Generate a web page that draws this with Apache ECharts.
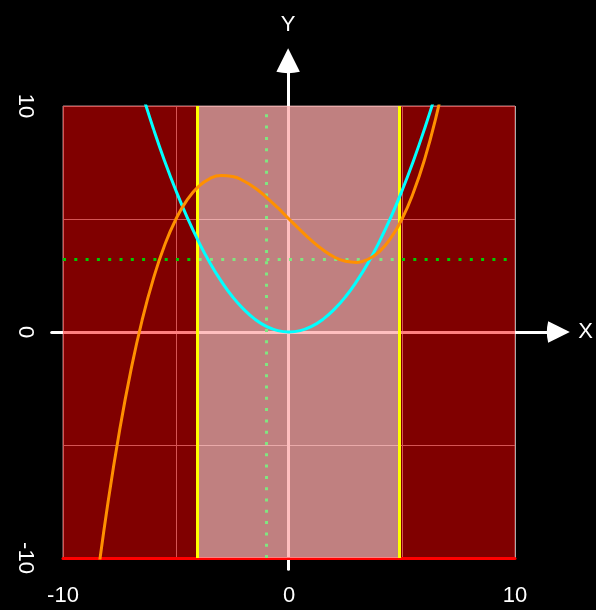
<!DOCTYPE html>
<html>
<head>
<meta charset="utf-8">
<script src="https://cdn.jsdelivr.net/npm/echarts@6/dist/echarts.min.js"></script>
<style>
html,body{margin:0;padding:0;background:#000;}
#chart{width:596px;height:610px;}
</style>
</head>
<body>
<div id="chart"></div>
<script>
// Data
const cyanX = [-7, -6.5, -6, -5.5, -5, -4.5, -4, -3.5, -3, -2.5, -2, -1.5, -1, -0.5, 0, 0.5, 1, 1.5, 2, 2.5, 3, 3.5, 4, 4.5, 5, 5.5, 6, 6.5, 7];
const cyanY = [12.25, 10.56, 9, 7.56, 6.25, 5.06, 4, 3.06, 2.25, 1.56, 1, 0.56, 0.25, 0.06, 0, 0.06, 0.25, 0.56, 1, 1.56, 2.25, 3.06, 4, 5.06, 6.25, 7.56, 9, 10.56, 12.25];
const orangeX = [-9, -8.5, -8, -7.5, -7, -6.5, -6, -5.5, -5, -4.5, -4, -3.5, -3, -2.5, -2, -1.5, -1, -0.5, 0, 0.5, 1, 1.5, 2, 2.5, 3, 3.5, 4, 4.5, 5, 5.5, 6, 6.5, 7];
const orangeY = [-15.16, -11.07, -7.48, -4.38, -1.72, 0.52, 2.36, 3.85, 5, 5.86, 6.44, 6.79, 6.92, 6.88, 6.68, 6.37, 5.96, 5.5, 5, 4.51, 4.04, 3.64, 3.32, 3.13, 3.08, 3.22, 3.56, 4.15, 5, 6.16, 7.64, 9.49, 11.72];
const bandRange = [-4.05, 4.88];
const guideX = -1.02;
const guideY = 3.2;
const tickLabels = [-10, 0, 10];
const axisRange = [-10, 10];

const pair = (xs, ys) => xs.map((x, i) => [x, ys[i]]);
const fmt = v => (tickLabels.indexOf(v) >= 0 ? String(v) : '');
const FONT = 'Liberation Sans, Arial, sans-serif';
const arrow = 'path://M12,0 L24,24 Q12,27 0,24 Z';

const chart = echarts.init(document.getElementById('chart'), null, {renderer: 'canvas'});
chart.setOption({
  backgroundColor: '#000',
  animation: false,
  grid: [
    {left: 63, right: 81, top: 106, bottom: 52, show: true, borderColor: '#aa8888', borderWidth: 1, backgroundColor: 'transparent'},
    {left: 51.7, right: 35.8, top: 60.8, bottom: 40.7, show: false}
  ],
  xAxis: [
    {
      type: 'value', gridIndex: 0, min: axisRange[0], max: axisRange[1], interval: 5,
      axisLine: {show: true, onZero: false, lineStyle: {color: '#ff0000', width: 3}},
      axisTick: {show: false},
      axisLabel: {color: '#fff', fontSize: 22, fontFamily: FONT, margin: 27, formatter: fmt},
      splitLine: {show: true, lineStyle: {color: '#aaaaaa', width: 1}}
    },
    {
      type: 'value', gridIndex: 1, min: -10.5, max: 12,
      axisLine: {show: true, onZero: true, symbol: ['none', arrow], symbolSize: [25, 23], lineStyle: {color: '#fff', width: 3}},
      axisTick: {show: false}, axisLabel: {show: false}, splitLine: {show: false},
      name: 'X', nameLocation: 'end', nameGap: 20,
      nameTextStyle: {color: '#fff', fontSize: 22, fontFamily: FONT}
    }
  ],
  yAxis: [
    {
      type: 'value', gridIndex: 0, min: axisRange[0], max: axisRange[1], interval: 5,
      axisLine: {show: false},
      axisTick: {show: false},
      axisLabel: {color: '#fff', fontSize: 22, fontFamily: FONT, margin: 27, rotate: -90, formatter: fmt},
      splitLine: {show: true, lineStyle: {color: '#aaaaaa', width: 1}}
    },
    {
      type: 'value', gridIndex: 1, min: -10.5, max: 12,
      axisLine: {show: true, onZero: true, symbol: ['none', arrow], symbolSize: [25, 25], lineStyle: {color: '#fff', width: 3}},
      axisTick: {show: false}, axisLabel: {show: false}, splitLine: {show: false},
      name: 'Y', nameLocation: 'end', nameGap: 25,
      nameTextStyle: {color: '#fff', fontSize: 22, fontFamily: FONT}
    }
  ],
  series: [
    {
      type: 'line', xAxisIndex: 0, yAxisIndex: 0, data: [], silent: true,
      markArea: {silent: true, z: 1, itemStyle: {color: 'rgba(255,0,0,0.5)'},
        data: [[{xAxis: axisRange[0], yAxis: axisRange[0]}, {xAxis: axisRange[1], yAxis: axisRange[1]}]]}
    },
    {
      type: 'line', xAxisIndex: 0, yAxisIndex: 0, data: [], silent: true,
      markLine: {silent: true, z: 2, symbol: 'none', label: {show: false},
        lineStyle: {color: '#00cc00', width: 3, type: [3, 8.3]},
        emphasis: {disabled: true},
        data: [{xAxis: guideX}, {yAxis: guideY}]}
    },
    {
      type: 'line', xAxisIndex: 0, yAxisIndex: 0, data: [], silent: true,
      markArea: {silent: true, z: 3, itemStyle: {color: 'rgba(255,255,255,0.5)'},
        data: [[{xAxis: bandRange[0], yAxis: axisRange[0]}, {xAxis: bandRange[1], yAxis: axisRange[1]}]]}
    },
    {
      type: 'line', xAxisIndex: 0, yAxisIndex: 0, data: [], silent: true,
      markLine: {silent: true, z: 4, symbol: 'none', label: {show: false},
        lineStyle: {color: '#ffff00', width: 3, type: 'solid'},
        emphasis: {disabled: true},
        data: [{xAxis: bandRange[0]}, {xAxis: bandRange[1]}]}
    },
    {
      name: 'parabola', type: 'line', xAxisIndex: 0, yAxisIndex: 0, z: 6,
      data: pair(cyanX, cyanY), smooth: true, showSymbol: false, clip: true, silent: true,
      lineStyle: {color: '#00ffff', width: 3}
    },
    {
      name: 'cubic', type: 'line', xAxisIndex: 0, yAxisIndex: 0, z: 7,
      data: pair(orangeX, orangeY), smooth: true, showSymbol: false, clip: true, silent: true,
      lineStyle: {color: '#ff9000', width: 3}
    }
  ]
});
</script>
</body>
</html>
